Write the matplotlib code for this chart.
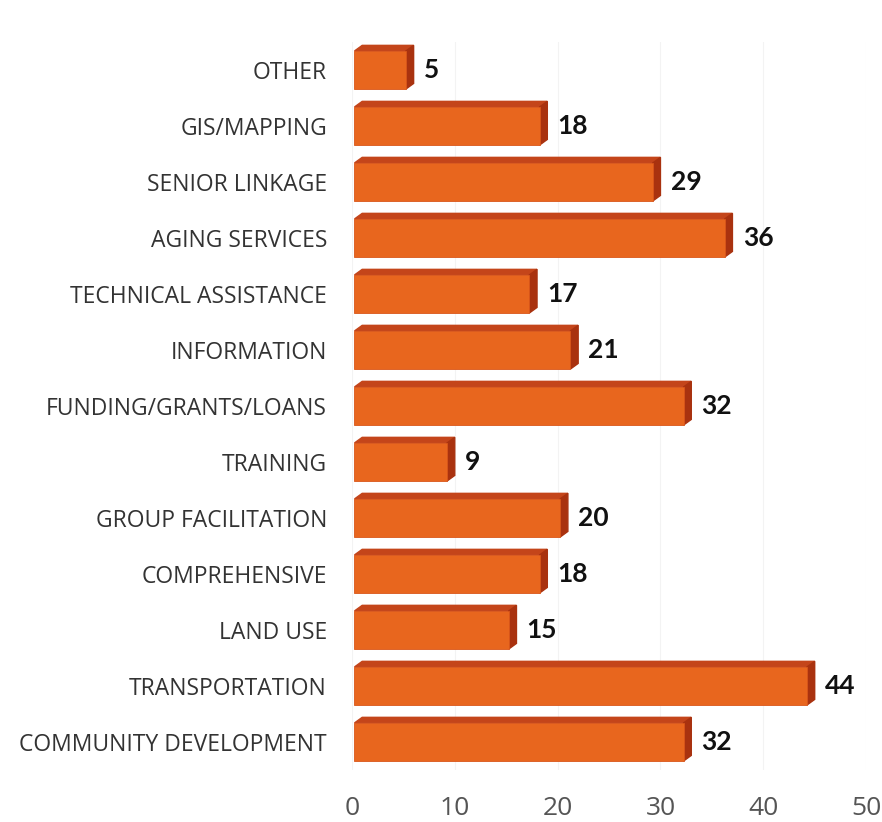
import numpy as np
import matplotlib.pyplot as plt

# Datos (de abajo hacia arriba)
categorias = ["COMMUNITY DEVELOPMENT", "TRANSPORTATION", "LAND USE", "COMPREHENSIVE",
              "GROUP FACILITATION", "TRAINING", "FUNDING/GRANTS/LOANS", "INFORMATION",
              "TECHNICAL ASSISTANCE", "AGING SERVICES", "SENIOR LINKAGE", "GIS/MAPPING", "OTHER"]
valores = np.array([32, 44, 15, 18, 20, 9, 32, 21, 17, 36, 29, 18, 5])
ticks_x = [0, 10, 20, 30, 40, 50]

pos = np.arange(len(categorias))
alto = 0.68
dx, dy = 0.75, 0.1  # profundidad del efecto 3D

fig = plt.figure(figsize=(8.82, 8.22), dpi=100)
ax = fig.add_axes([0.399, 0.0633, 0.583, 0.8856])

ax.barh(pos, valores, height=alto, left=0.25, color="#E8661E", edgecolor="#D9561A",
        linewidth=0.6, zorder=3)
for p, v in zip(pos, valores):
    x1 = v + 0.25
    y0, y1 = p - alto / 2, p + alto / 2
    # cara superior
    ax.fill([0.25, x1, x1 + dx, 0.25 + dx], [y1, y1, y1 + dy, y1 + dy],
            color="#C4451A", zorder=2)
    # cara lateral
    ax.fill([x1, x1 + dx, x1 + dx, x1], [y0, y0 + dy, y1 + dy, y1],
            color="#A9320F", zorder=2)
    ax.text(v + 2.0, p, str(v), va="center", ha="left", fontsize=19,
            fontweight="bold", family="Lato", color="#111111")

ax.set_xlim(0, 50)
ax.set_ylim(-0.5, 12.5)
ax.set_yticks(pos)
ax.set_yticklabels(categorias, fontsize=16.5, family="Open Sans", color="#333333")
ax.set_xticks(ticks_x)
ax.set_xticklabels([str(t) for t in ticks_x], fontsize=19, family="Open Sans",
                   color="#555555")
ax.tick_params(axis="x", length=0, pad=19)
ax.tick_params(axis="y", length=0, pad=18)
ax.grid(axis="x", color="#F3F3F3", linewidth=0.8, zorder=0)
for s in ax.spines.values():
    s.set_visible(False)

plt.savefig("out.png", dpi=100)
